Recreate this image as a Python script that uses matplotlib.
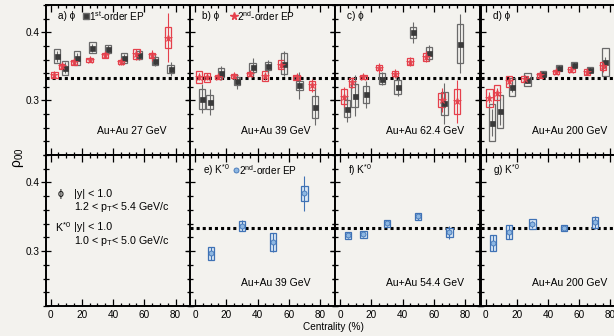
import matplotlib
matplotlib.use("Agg")
import matplotlib.pyplot as plt
from matplotlib.patches import Rectangle
from matplotlib.ticker import MultipleLocator

plt.rcParams['font.family'] = ['Liberation Sans', 'DejaVu Sans']
plt.rcParams['mathtext.fontset'] = 'custom'
plt.rcParams['mathtext.rm'] = 'Liberation Sans'
plt.rcParams['mathtext.it'] = 'Liberation Sans:italic'
plt.rcParams['mathtext.default'] = 'regular'

BG = '#f3f2ee'

# ---- phi meson rho00 vs centrality (1st- and 2nd-order event plane) ----
phi_cent = [2.5, 7.5, 15, 25, 35, 45, 55, 65, 75]
ep1_shift = 1.8

ep1_27 = [0.365, 0.348, 0.362, 0.377, 0.375, 0.362, 0.367, 0.358, 0.346]
ep1_27_stat = [0.008, 0.008, 0.007, 0.006, 0.006, 0.006, 0.007, 0.008, 0.010]
ep1_27_sys = [0.010, 0.010, 0.010, 0.008, 0.006, 0.007, 0.006, 0.006, 0.006]
ep2_27 = [0.337, 0.350, 0.356, 0.360, 0.366, 0.357, 0.368, 0.366, 0.392]
ep2_27_stat = [0.004, 0.004, 0.003, 0.003, 0.004, 0.005, 0.008, 0.008, 0.036]
ep2_27_sys = [0.004, 0.004, 0.004, 0.003, 0.004, 0.003, 0.007, 0.004, 0.015]

ep1_39 = [0.3025, 0.2975, 0.3405, 0.328, 0.349, 0.350, 0.354, 0.322, 0.291]
ep1_39_stat = [0.021, 0.019, 0.010, 0.011, 0.013, 0.010, 0.018, 0.020, 0.027]
ep1_39_sys = [0.015, 0.010, 0.0066, 0.006, 0.0066, 0.006, 0.0156, 0.006, 0.016]
ep2_39 = [0.3347, 0.3337, 0.334, 0.3356, 0.3385, 0.3356, 0.3527, 0.3337, 0.322]
ep2_39_stat = [0.005, 0.004, 0.003, 0.003, 0.003, 0.005, 0.006, 0.004, 0.009]
ep2_39_sys = [0.0085, 0.006, 0.003, 0.003, 0.003, 0.007, 0.006, 0.003, 0.006]

ep1_62 = [0.288, 0.307, 0.309, 0.332, 0.320, 0.400, 0.370, 0.296, 0.3835]
ep1_62_stat = [0.020, 0.030, 0.020, 0.010, 0.013, 0.015, 0.012, 0.030, 0.043]
ep1_62_sys = [0.012, 0.017, 0.0127, 0.008, 0.010, 0.008, 0.009, 0.017, 0.028]
ep2_62 = [0.3054, 0.3268, 0.3347, 0.348, 0.3395, 0.357, 0.364, 0.3004, 0.2985]
ep2_62_stat = [0.015, 0.008, 0.003, 0.007, 0.006, 0.007, 0.008, 0.018, 0.032]
ep2_62_sys = [0.011, 0.0066, 0.003, 0.004, 0.004, 0.005, 0.006, 0.010, 0.018]

ep1_200 = [0.2674, 0.2843, 0.320, 0.3307, 0.3395, 0.3473, 0.3527, 0.3454, 0.3562]
ep1_200_stat = [0.020, 0.020, 0.008, 0.005, 0.004, 0.004, 0.004, 0.004, 0.008]
ep1_200_sys = [0.027, 0.024, 0.013, 0.009, 0.004, 0.004, 0.004, 0.004, 0.020]
ep2_200 = [0.304, 0.3113, 0.3283, 0.3318, 0.3366, 0.3414, 0.3454, 0.342, 0.350]
ep2_200_stat = [0.008, 0.007, 0.005, 0.003, 0.003, 0.003, 0.003, 0.004, 0.008]
ep2_200_sys = [0.013, 0.011, 0.008, 0.004, 0.003, 0.003, 0.003, 0.004, 0.006]

# ---- K*0 rho00 vs centrality (2nd-order event plane) ----
kst_cent_39 = [10, 30, 50, 70]
kst_39 = [0.2966, 0.3368, 0.3127, 0.384]
kst_39_stat = [0.009, 0.008, 0.014, 0.026]
kst_39_sys = [0.009, 0.007, 0.013, 0.011]

kst_cent_54 = [5, 15, 30, 50, 70]
kst_54 = [0.3233, 0.3247, 0.3403, 0.3505, 0.3272]
kst_54_stat = [0.004, 0.004, 0.004, 0.005, 0.009]
kst_54_sys = [0.005, 0.005, 0.005, 0.005, 0.006]

kst_cent_200 = [5, 15, 30, 50, 70]
kst_200 = [0.3116, 0.328, 0.3393, 0.334, 0.3418]
kst_200_stat = [0.012, 0.010, 0.005, 0.004, 0.009]
kst_200_sys = [0.012, 0.010, 0.007, 0.004, 0.008]

energies_top = ['Au+Au 27 GeV', 'Au+Au 39 GeV', 'Au+Au 62.4 GeV', 'Au+Au 200 GeV']
energies_bot = ['Au+Au 39 GeV', 'Au+Au 54.4 GeV', 'Au+Au 200 GeV']
x_ticks = [0, 20, 40, 60, 80]
y_ticks = [0.3, 0.4]

BLK_M = '#3a3a3a'
BLK_B = '#6a6a6a'
RED = '#e5404c'
BLUE_E = '#3f72b5'
BLUE_F = '#8db7e2'

FS = 7.2


def style_axis(ax, xlabels, ylabels):
    ax.set_facecolor(BG)
    ax.set_xlim(-3.2, 89.6)
    ax.set_ylim(0.22, 0.44)
    ax.xaxis.set_major_locator(MultipleLocator(20))
    ax.xaxis.set_minor_locator(MultipleLocator(5))
    ax.yaxis.set_major_locator(MultipleLocator(0.1))
    ax.yaxis.set_minor_locator(MultipleLocator(0.02))
    ax.tick_params(axis='x', which='both', direction='in', top=True, bottom=True,
                   width=0.9, labelsize=FS, pad=3, colors='black')
    ax.tick_params(axis='x', which='major', length=5)
    ax.tick_params(axis='x', which='minor', length=2.5)
    ax.tick_params(axis='y', which='both', direction='inout', left=True, right=True,
                   width=0.9, labelsize=FS, pad=1)
    ax.tick_params(axis='y', which='major', length=7)
    ax.tick_params(axis='y', which='minor', length=4)
    ax.set_xticks(x_ticks)
    ax.set_yticks(y_ticks)
    if not xlabels:
        ax.set_xticklabels([])
    if ylabels:
        ax.set_yticklabels(['0.3', '0.4'])
    else:
        ax.set_yticklabels([])
    for s in ax.spines.values():
        s.set_linewidth(1.4)
    ax.axhline(1.0 / 3.0, color='black', lw=2.2, ls=(0, (1.0, 1.0)), zorder=1)


def draw_series(ax, xs, ys, stat, sys, edge, mcolor, marker, msize, width=4.0,
                box_face='none', mew=0.5, medge=None):
    for x, y, s in zip(xs, ys, sys):
        ax.add_patch(Rectangle((x - width / 2, y - s), width, 2 * s, fill=box_face != 'none',
                               facecolor=box_face, edgecolor=edge, lw=0.9, zorder=3))
    ax.errorbar(xs, ys, yerr=stat, fmt='none', ecolor=edge, elinewidth=0.8,
                capsize=0, zorder=4)
    ax.plot(xs, ys, ls='none', marker=marker, ms=msize, color=mcolor,
            mec=medge if medge else mcolor, mew=mew, zorder=5)


fig = plt.figure(figsize=(6.14, 3.36), dpi=100, facecolor=BG)
W, H = 614.0, 336.0
lefts = [45.5, 190.0, 335.0, 480.5]
aw = 145.0
top_row = (5.0, 155.0)
bot_row = (155.0, 306.0)


def make_axes(left, row):
    t, b = row
    return fig.add_axes([left / W, (H - b) / H, aw / W, (b - t) / H])


top_data = [
    (ep1_27, ep1_27_stat, ep1_27_sys, ep2_27, ep2_27_stat, ep2_27_sys),
    (ep1_39, ep1_39_stat, ep1_39_sys, ep2_39, ep2_39_stat, ep2_39_sys),
    (ep1_62, ep1_62_stat, ep1_62_sys, ep2_62, ep2_62_stat, ep2_62_sys),
    (ep1_200, ep1_200_stat, ep1_200_sys, ep2_200, ep2_200_stat, ep2_200_sys),
]
panel_top = ['a) ϕ', 'b) ϕ', 'c) ϕ', 'd) ϕ']

for i, (left, d) in enumerate(zip(lefts, top_data)):
    ax = make_axes(left, top_row)
    style_axis(ax, xlabels=False, ylabels=(i == 0))
    e1, e1s, e1y, e2, e2s, e2y = d
    x1 = [c + ep1_shift for c in phi_cent]
    draw_series(ax, x1, e1, e1s, e1y, BLK_B, BLK_M, 's', 3.6)
    draw_series(ax, phi_cent, e2, e2s, e2y, RED, RED, '*', 5.5)
    ax.text(0.085, 0.925, panel_top[i], transform=ax.transAxes, fontsize=FS,
            va='center', ha='left')
    ax.text(0.355, 0.16, energies_top[i], transform=ax.transAxes, fontsize=FS + 0.3,
            va='center', ha='left')
    if i == 0:
        ax.plot([0.277], [0.925], transform=ax.transAxes, marker='s', ms=3.8,
                color=BLK_M, mec=BLK_B, ls='none', clip_on=False)
        ax.text(0.30, 0.925, '1$^{st}$-order EP', transform=ax.transAxes,
                fontsize=FS, va='center', ha='left')
    if i == 1:
        ax.plot([0.303], [0.925], transform=ax.transAxes, marker='*', ms=5.5,
                color=RED, ls='none', clip_on=False)
        ax.text(0.325, 0.925, '2$^{nd}$-order EP', transform=ax.transAxes,
                fontsize=FS, va='center', ha='left')

# bottom-left panel: kinematic cuts
ax = make_axes(lefts[0], bot_row)
style_axis(ax, xlabels=True, ylabels=True)
ax.lines[0].remove()
ax.text(0.085, 0.745, 'ϕ', transform=ax.transAxes, fontsize=FS + 0.5, va='center')
ax.text(0.195, 0.745, '|y| < 1.0', transform=ax.transAxes, fontsize=FS + 0.5, va='center')
ax.text(0.195, 0.655, '1.2 < p$_T$< 5.4 GeV/c', transform=ax.transAxes,
        fontsize=FS + 0.5, va='center')
ax.text(0.065, 0.52, 'K$^{*0}$', transform=ax.transAxes, fontsize=FS + 0.5, va='center')
ax.text(0.195, 0.52, '|y| < 1.0', transform=ax.transAxes, fontsize=FS + 0.5, va='center')
ax.text(0.195, 0.43, '1.0 < p$_T$< 5.0 GeV/c', transform=ax.transAxes,
        fontsize=FS + 0.5, va='center')

bot_data = [
    (kst_cent_39, kst_39, kst_39_stat, kst_39_sys),
    (kst_cent_54, kst_54, kst_54_stat, kst_54_sys),
    (kst_cent_200, kst_200, kst_200_stat, kst_200_sys),
]
panel_bot = ['e) K$^{*0}$', 'f) K$^{*0}$', 'g) K$^{*0}$']
for i, (left, d) in enumerate(zip(lefts[1:], bot_data)):
    ax = make_axes(left, bot_row)
    style_axis(ax, xlabels=True, ylabels=False)
    c, v, s, y = d
    draw_series(ax, c, v, s, y, BLUE_E, BLUE_F, 'o', 3.6, box_face='#dbe8f5',
                mew=0.6, medge=BLUE_E)
    ax.text(0.088, 0.9, panel_bot[i], transform=ax.transAxes, fontsize=FS,
            va='center', ha='left')
    ax.text(0.355, 0.155, energies_bot[i], transform=ax.transAxes, fontsize=FS + 0.3,
            va='center', ha='left')
    if i == 0:
        ax.plot([0.317], [0.9], transform=ax.transAxes, marker='o', ms=3.6,
                color=BLUE_F, mec=BLUE_E, mew=0.6, ls='none', clip_on=False)
        ax.text(0.34, 0.9, '2$^{nd}$-order EP', transform=ax.transAxes,
                fontsize=FS, va='center', ha='left')

fig.text(18 / W, 1 - 158 / H, 'ρ$_{00}$', rotation=90, fontsize=10,
         va='center', ha='center')
fig.text(333 / W, 1 - 327 / H, 'Centrality (%)', fontsize=FS,
         va='center', ha='center')

fig.savefig('out.png', dpi=100, facecolor=BG)
